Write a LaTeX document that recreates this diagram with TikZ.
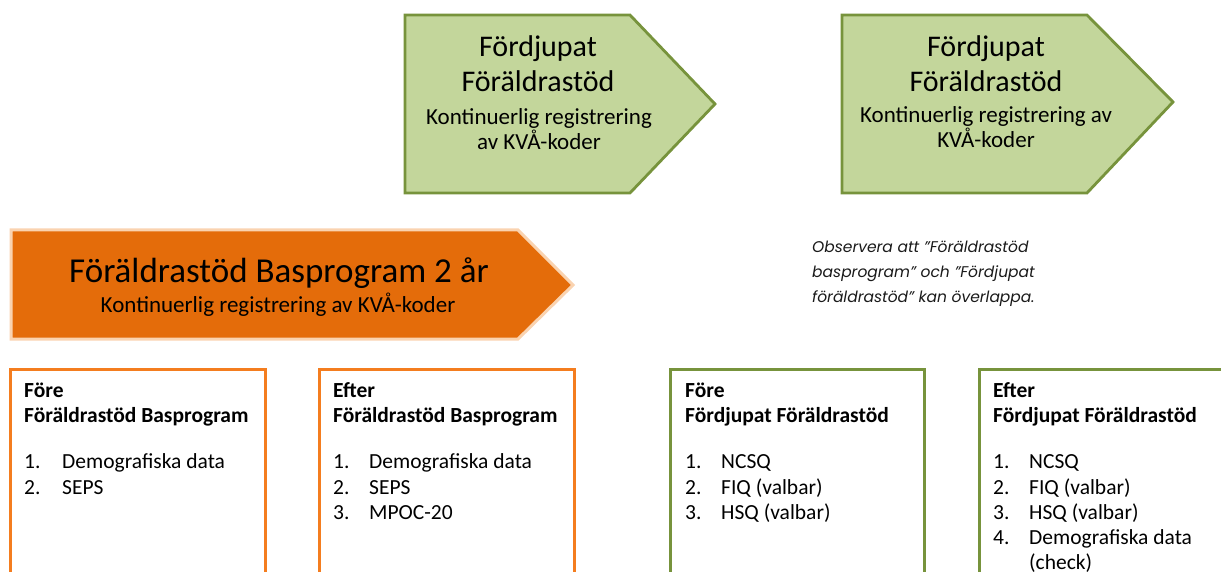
\documentclass[tikz,border=0pt]{standalone}
\usepackage{fontspec}
\setmainfont{Carlito}
\newfontfamily\notefont{Poppins}
\definecolor{gfill}{HTML}{C3D69B}
\definecolor{gline}{HTML}{77933C}
\definecolor{ofill}{HTML}{E46C0A}
\definecolor{oglow}{HTML}{FAD3B0}
\definecolor{oline}{HTML}{F47D1F}
\definecolor{notecol}{HTML}{1A1A1A}
\tikzset{
  greenarrow/.style={fill=gfill, draw=gline, line width=2.8pt, line join=miter},
  orangearrow/.style={fill=ofill, draw=oglow, line width=3pt, line join=miter},
  obox/.style={draw=oline, line width=3pt},
  gbox/.style={draw=gline, line width=3pt},
  ttl/.style={anchor=base, inner sep=0pt, font=\fontsize{30}{33}\selectfont},
  sub/.style={anchor=base, inner sep=0pt, font=\fontsize{23}{25}\selectfont},
  otitle/.style={anchor=base, inner sep=0pt, font=\fontsize{35}{38}\selectfont},
  bhead/.style={anchor=base west, inner sep=0pt, font=\fontsize{21.5}{25}\selectfont\bfseries},
  btxt/.style={anchor=base west, inner sep=0pt, font=\fontsize{21.5}{25}\selectfont},
  note/.style={anchor=base west, inner sep=0pt, text=notecol, font=\notefont\itshape\fontsize{15.5}{18}\selectfont}
}
\begin{document}
\begin{tikzpicture}[x=1pt,y=-1pt]
\useasboundingbox (0,0) rectangle (1221,572);
\clip (0,0) rectangle (1221,572);

% green arrows
\draw[greenarrow] (405,15) -- (630,15) -- (715,104) -- (630,193) -- (405,193) -- cycle;
\draw[greenarrow] (842,15) -- (1087,15) -- (1173,102) -- (1087,193) -- (842,193) -- cycle;
\node[ttl] (g1a) at (538,57) {Fördjupat};
\node[ttl] (g1b) at (538,92) {Föräldrastöd};
\node[sub] (g1c) at (539,125) {Kontinuerlig registrering};
\node[sub] (g1d) at (539,150) {av KVÅ-koder};
\node[ttl] (g2a) at (986,57) {Fördjupat};
\node[ttl] (g2b) at (986,92) {Föräldrastöd};
\node[sub] (g2c) at (986,123) {Kontinuerlig registrering av};
\node[sub] (g2d) at (986,148) {KVÅ-koder};

% orange arrow
\draw[orangearrow] (11,230) -- (518,230) -- (573,285) -- (518,339) -- (11,339) -- cycle;
\node[otitle] (o1) at (279,282) {Föräldrastöd Basprogram 2 år};
\node[sub] (o2) at (278,312) {Kontinuerlig registrering av KVÅ-koder};

% note
\node[note] (n1) at (812,253) {Observera att ”Föräldrastöd};
\node[note] (n2) at (812,277) {basprogram” och ”Fördjupat};
\node[note] (n3) at (812,302) {föräldrastöd” kan överlappa.};

% boxes
\draw[obox] (10,369) rectangle (265,600);
\draw[obox] (319,369) rectangle (574,600);
\draw[gbox] (670,369) rectangle (924,600);
\draw[gbox] (979,369) rectangle (1234,600);

% box 1
\node[bhead] (b1h1) at (24,397) {Före};
\node[bhead] (b1h2) at (24,422) {Föräldrastöd Basprogram};
\node[btxt] (b1n1) at (24,468) {1.};
\node[btxt] (b1t1) at (62,468) {Demografiska data};
\node[btxt] (b1n2) at (24,494) {2.};
\node[btxt] (b1t2) at (62,494) {SEPS};

% box 2
\node[bhead] (b2h1) at (333,397) {Efter};
\node[bhead] (b2h2) at (333,422) {Föräldrastöd Basprogram};
\node[btxt] (b2n1) at (333,468) {1.};
\node[btxt] (b2t1) at (369,468) {Demografiska data};
\node[btxt] (b2n2) at (333,494) {2.};
\node[btxt] (b2t2) at (369,494) {SEPS};
\node[btxt] (b2n3) at (333,519) {3.};
\node[btxt] (b2t3) at (369,519) {MPOC-20};

% box 3
\node[bhead] (b3h1) at (685,397) {Före};
\node[bhead] (b3h2) at (685,422) {Fördjupat Föräldrastöd};
\node[btxt] (b3n1) at (685,468) {1.};
\node[btxt] (b3t1) at (721,468) {NCSQ};
\node[btxt] (b3n2) at (685,494) {2.};
\node[btxt] (b3t2) at (721,494) {FIQ (valbar)};
\node[btxt] (b3n3) at (685,519) {3.};
\node[btxt] (b3t3) at (721,519) {HSQ (valbar)};

% box 4
\node[bhead] (b4h1) at (993,397) {Efter};
\node[bhead] (b4h2) at (993,422) {Fördjupat Föräldrastöd};
\node[btxt] (b4n1) at (993,468) {1.};
\node[btxt] (b4t1) at (1029,468) {NCSQ};
\node[btxt] (b4n2) at (993,494) {2.};
\node[btxt] (b4t2) at (1029,494) {FIQ (valbar)};
\node[btxt] (b4n3) at (993,519) {3.};
\node[btxt] (b4t3) at (1029,519) {HSQ (valbar)};
\node[btxt] (b4n4) at (993,544) {4.};
\node[btxt] (b4t4) at (1029,544) {Demografiska data};
\node[btxt] (b4t5) at (1029,569) {(check)};
\end{tikzpicture}
\end{document}
